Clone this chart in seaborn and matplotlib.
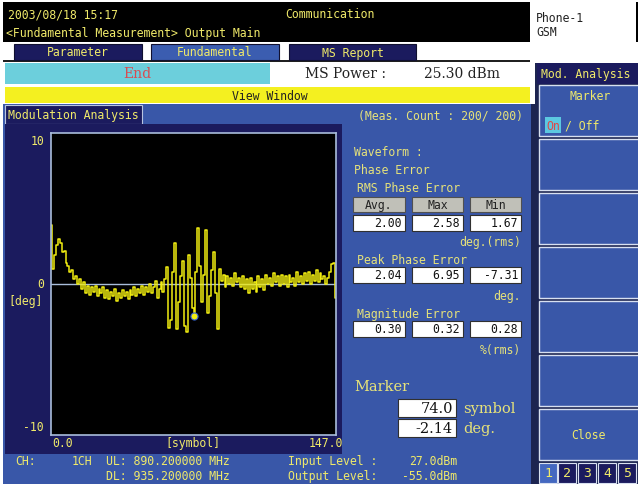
import matplotlib
matplotlib.use("Agg")
import matplotlib.pyplot as plt
from matplotlib.patches import Rectangle
import pandas as pd
import seaborn as sns

# ---- measurement data -------------------------------------------------
symbols = list(range(148))
phase_error_deg = [
    3.9, 1.0, 1.9, 2.6, 3.0, 2.7, 2.1, 2.2, 1.4, 1.2,
    0.8, 0.9, 0.3, 0.5, 0.0, 0.3, -0.3, 0.1, -0.6, -0.1,
    -0.7, -0.2, -0.5, -0.1, -0.8, -0.3, -0.6, -0.2, -0.9, -0.4,
    -1.0, -0.5, -0.8, -0.3, -1.1, -0.6, -0.9, -0.4, -0.8, -0.5,
    -1.0, -0.4, -0.7, -0.2, -0.8, -0.3, -0.6, -0.1, -0.7, -0.2,
    -0.5, 0.0, -0.6, -0.2, 0.2, -0.9, -0.3, 0.1, -0.5, 0.3,
    1.1, -2.9, -2.4, 0.8, 2.7, -3.0, -1.2, 0.5, 1.5, -2.8,
    -3.2, 1.9, 0.4, -1.6, -2.14, 0.8, 3.7, 1.2, -1.2, 0.6,
    3.6, -1.9, -0.8, 0.9, 2.1, -0.6, -3.0, 1.0, 0.2, 0.6,
    -0.2, 0.5, 0.0, 0.4, -0.1, 0.7, 0.1, 0.4, -0.2, 0.5,
    -0.3, 0.3, -0.6, 0.4, -0.3, 0.1, -0.5, 0.5, -0.2, 0.3,
    -0.4, 0.6, 0.0, 0.4, -0.1, 0.7, 0.1, 0.5, -0.1, 0.6,
    0.0, 0.5, -0.2, 0.6, 0.1, 0.4, -0.1, 0.8, 0.1, 0.5,
    0.0, 0.7, 0.2, 0.8, 0.0, 0.6, 0.2, 0.9, 0.1, 0.7,
    0.3, 0.5, 0.0, 0.4, 0.8, 1.3, 1.4, -0.9,
]
y_tick_values = [10, 0, -10]
x_range = [0.0, 147.0]

stat_headers = ["Avg.", "Max", "Min"]
rms_phase_error = [2.00, 2.58, 1.67]
peak_phase_error = [2.04, 6.95, -7.31]
magnitude_error = [0.30, 0.32, 0.28]

marker_symbol = 74.0
marker_deg = phase_error_deg[int(marker_symbol)]

ms_power_dbm = 25.30
meas_count = (200, 200)
input_level_dbm = 27.0
output_level_dbm = -55.0
ul_mhz = 890.2
dl_mhz = 935.2

# ---- colours ----------------------------------------------------------
BLUE = "#3957a8"
NAVY = "#1b1b5e"
PALE_Y = "#e6e27a"
TXT_Y = "#f0ea6a"
LINE_Y = "#f2ee10"
GRID = "#a9bddb"

sns.set_theme(style="white")
plt.rcParams["font.family"] = ["DejaVu Sans Mono", "DejaVu Sans"]

W, H = 638, 485
fig = plt.figure(figsize=(W / 100, H / 100), dpi=100)
fig.patch.set_facecolor("white")

bg = fig.add_axes([0, 0, 1, 1])
bg.set_xlim(0, W)
bg.set_ylim(H, 0)
bg.axis("off")


def box(x0, y0, x1, y1, fc, ec="none", lw=0.0, z=1):
    bg.add_patch(Rectangle((x0, y0), x1 - x0, y1 - y0, facecolor=fc,
                           edgecolor=ec, linewidth=lw, zorder=z))


def label(x, y, s, color=TXT_Y, size=8.3, ha="left", family=None, z=5):
    kw = {}
    if family:
        kw["family"] = family
    bg.text(x, y, s, color=color, fontsize=size, ha=ha, va="center",
            zorder=z, **kw)


# header
box(3, 3, 530, 43, "black")
box(531, 3, 636, 43, "white")
box(636, 3, 638, 43, "black")
label(8, 15, "2003/08/18 15:17")
label(285, 15, "Communication")
label(6, 33, "<Fundamental Measurement> Output Main")
label(536, 18, "Phone-1", color="#222222")
label(536, 33, "GSM", color="#222222")

# tabs
box(3, 61, 530, 62.5, "#202020")
for (x0, x1, name, fc) in [(14, 142, "Parameter", NAVY),
                           (151, 279, "Fundamental", "#3b5db0"),
                           (289, 416, "MS Report", NAVY)]:
    box(x0, 45, x1, 61, fc, ec="#101030", lw=0.8)
    label((x0 + x1) / 2, 53, name, ha="center")

# status row
box(5, 64, 270, 85, "#6ccfdc")
label(137, 74.5, "End", color="#d84c50", size=10, ha="center",
      family="DejaVu Serif")
box(270, 64, 530, 85, "white")
label(305, 74.5, "MS Power :", color="#222222", size=10, family="DejaVu Serif")
label(500, 74.5, f"{ms_power_dbm:.2f} dBm", color="#222222", size=10,
      ha="right", family="DejaVu Serif")

# view window bar
box(5, 88, 530, 104, "#f4f020")
label(270, 96, "View Window", color="#222222", ha="center")

# main blue panel
box(3, 105, 533, 485, BLUE, z=0.5)
box(531, 105, 535, 485, "#1c2450", z=0.6)
box(5, 106, 142, 125, NAVY, ec="#b8c4e0", lw=0.8)
label(8, 115.5, "Modulation Analysis")
label(523, 116, f"(Meas. Count : {meas_count[0]}/ {meas_count[1]})",
      color=PALE_Y, ha="right")
box(5, 125, 342, 455, NAVY)

# axis labels around the plot
label(44, 142, f"{y_tick_values[0]}", ha="right")
label(44, 285, f"{y_tick_values[1]}", ha="right")
label(8, 302, "[deg]")
label(44, 428, f"{y_tick_values[2]}", ha="right")
label(52, 444, f"{x_range[0]:.1f}")
label(193, 444, "[symbol]", ha="center")
label(343, 444, f"{x_range[1]:.1f}", ha="right")

# result readouts
label(354, 153, "Waveform :", color=PALE_Y)
label(354, 171, "Phase Error", color=PALE_Y)
label(357, 189, "RMS Phase Error", color=PALE_Y)
cols = [(353, 405), (412, 463), (470, 521)]
for (x0, x1), head in zip(cols, stat_headers):
    box(x0, 198, x1, 213, "#c0c0b8", ec="#505050", lw=0.8)
    label((x0 + x1) / 2, 205.5, head, color="#222222", ha="center")


def value_row(y0, values, unit, unit_y):
    for (x0, x1), v in zip(cols, values):
        box(x0, y0, x1, y0 + 16, "white", ec="#303030", lw=0.8)
        label(x1 - 3, y0 + 8, f"{v:.2f}", color="#111111", ha="right")
    label(521, unit_y, unit, color=PALE_Y, ha="right")


value_row(216, rms_phase_error, "deg.(rms)", 243)
label(357, 261, "Peak Phase Error", color=PALE_Y)
value_row(268, peak_phase_error, "deg.", 297)
label(357, 315, "Magnitude Error", color=PALE_Y)
value_row(322, magnitude_error, "%(rms)", 351)

label(354, 387, "Marker", color=PALE_Y, size=10.5, family="DejaVu Serif")
box(398, 400, 456, 418, "white", ec="#303030", lw=0.8)
box(398, 420, 456, 438, "white", ec="#303030", lw=0.8)
label(453, 409.5, f"{marker_symbol:.1f}", color="#111111", size=10.5,
      ha="right", family="DejaVu Serif")
label(453, 429.5, f"{marker_deg:.2f}", color="#111111", size=10.5,
      ha="right", family="DejaVu Serif")
label(463, 409.5, "symbol", color=PALE_Y, size=10.5, family="DejaVu Serif")
label(463, 429.5, "deg.", color=PALE_Y, size=10.5, family="DejaVu Serif")

# bottom status lines
label(15, 462, "CH:")
label(92, 462, "1CH", ha="right")
label(106, 462, f"UL: {ul_mhz:.6f} MHz")
label(106, 477, f"DL: {dl_mhz:.6f} MHz")
label(288, 462, "Input Level :")
label(457, 462, f"{input_level_dbm:.1f}dBm", ha="right")
label(288, 477, "Output Level:")
label(457, 477, f"{output_level_dbm:.1f}dBm", ha="right")

# soft-key column
box(535, 64, 638, 485, "#1c2450", z=0.5)
box(537, 64, 638, 85, NAVY)
label(541, 74.5, "Mod. Analysis")
keys = [(86, 137), (140, 191), (194, 245), (248, 299), (302, 353),
        (356, 407), (410, 461)]
for y0, y1 in keys:
    box(539, y0, 640, y1, BLUE, ec="#d8e0f0", lw=1.0)
label(590, 97, "Marker", ha="center")
box(545, 118, 561, 134, "#5cc8e0", z=4)
label(553, 126, "On", color="#e04848", ha="center")
label(565, 126, "/ Off")
label(588, 436, "Close", ha="center")
for i, x0 in enumerate([539, 558, 578, 598, 618]):
    box(x0, 464, x0 + 18, 484, "#4468c0" if i == 0 else NAVY,
        ec="#d8e0f0", lw=0.8)
    label(x0 + 9, 474, str(i + 1), ha="center", size=9.5)

# ---- waveform plot ----------------------------------------------------
x0p, x1p, y0p, y1p = 51, 336, 134, 436
ax = fig.add_axes([x0p / W, 1 - y1p / H, (x1p - x0p) / W, (y1p - y0p) / H])
ax.set_zorder(10)
ax.set_facecolor("black")
df = pd.DataFrame({"symbol": symbols, "phase": phase_error_deg})
ax.axhline(0, color=GRID, lw=1.0, zorder=1)
sns.lineplot(data=df, x="symbol", y="phase", ax=ax, color=LINE_Y,
             linewidth=1.1, drawstyle="steps-mid", zorder=2)
ax.scatter([marker_symbol], [marker_deg], s=26, color=LINE_Y,
           edgecolor="#3060d0", linewidth=0.8, zorder=3)
ax.set_xlim(*x_range)
ax.set_ylim(-10, 10)
ax.set_xticks([])
ax.set_yticks([])
ax.set_xlabel("")
ax.set_ylabel("")
for sp in ax.spines.values():
    sp.set_visible(True)
    sp.set_color(GRID)
    sp.set_linewidth(1.2)

fig.savefig("out.png", dpi=100, facecolor=fig.get_facecolor())
